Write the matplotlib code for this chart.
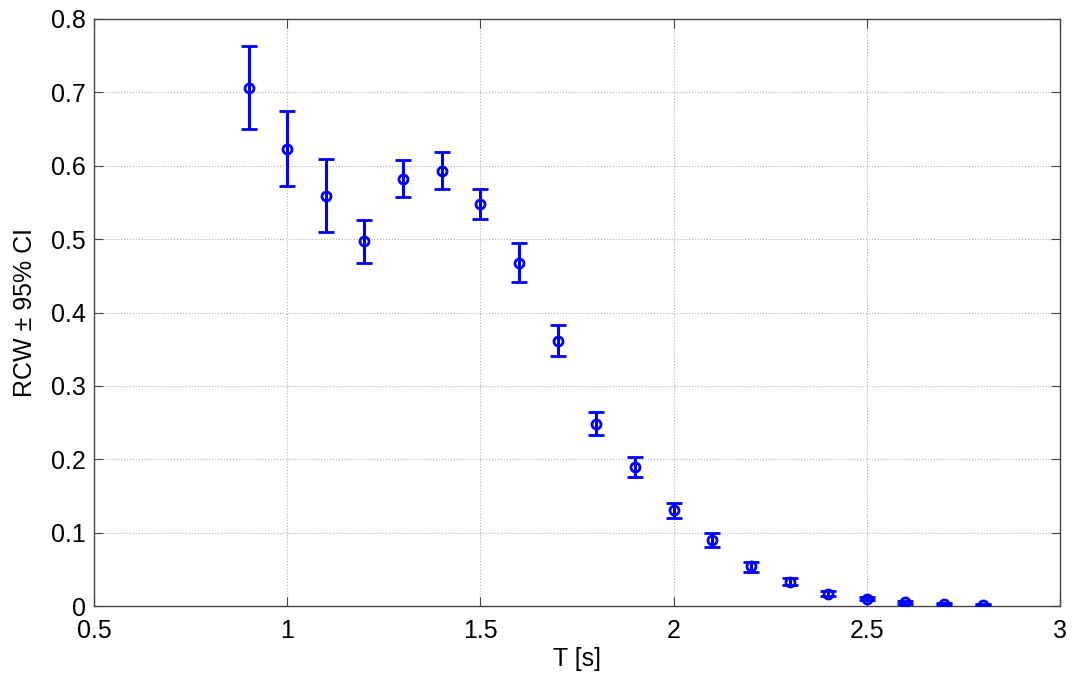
import numpy as np
import matplotlib as mpl
mpl.use('Agg')
import matplotlib.pyplot as plt

plt.rcParams['font.family'] = ['Liberation Sans', 'DejaVu Sans']

T = [0.9, 1.0, 1.1, 1.2, 1.3, 1.4, 1.5, 1.6, 1.7, 1.8,
     1.9, 2.0, 2.1, 2.2, 2.3, 2.4, 2.5, 2.6, 2.7, 2.8]
rcw = [0.706, 0.623, 0.559, 0.497, 0.582, 0.593, 0.548, 0.468, 0.361, 0.248,
       0.189, 0.131, 0.090, 0.054, 0.033, 0.017, 0.010, 0.005, 0.003, 0.002]
ci_low = [0.650, 0.573, 0.510, 0.468, 0.558, 0.569, 0.528, 0.442, 0.341, 0.233,
          0.176, 0.120, 0.080, 0.047, 0.028, 0.014, 0.008, 0.003, 0.002, 0.001]
ci_high = [0.763, 0.674, 0.609, 0.526, 0.608, 0.619, 0.568, 0.495, 0.383, 0.264,
           0.203, 0.141, 0.100, 0.060, 0.038, 0.020, 0.012, 0.007, 0.004, 0.003]

rcw = np.array(rcw)
yerr = [rcw - np.array(ci_low), np.array(ci_high) - rcw]

fig = plt.figure(figsize=(10.72, 6.81), dpi=100)
ax = fig.add_axes([0.0877, 0.1101, 0.9011, 0.862])

ax.errorbar(T, rcw, yerr=yerr, fmt='o', color='#0000ff', mfc='none',
            mec='#0000ff', ms=6.5, mew=2, elinewidth=2.2, capsize=5.5,
            capthick=2.2, zorder=3)

ax.set_xlim(0.5, 3)
ax.set_ylim(0, 0.8)
ax.set_xticks(np.arange(0.5, 3.01, 0.5))
ax.set_xticklabels(['0.5', '1', '1.5', '2', '2.5', '3'])
ax.set_yticks(np.arange(0, 0.81, 0.1))
ax.set_yticklabels(['0', '0.1', '0.2', '0.3', '0.4', '0.5', '0.6', '0.7', '0.8'])
ax.grid(True, linestyle=':', color='#b0b0b0', linewidth=0.8)
ax.tick_params(direction='in', top=True, right=True, length=6.5,
               labelsize=18, color='#444444')
ax.tick_params(axis='x', pad=9)
ax.tick_params(axis='y', pad=6)
for s in ax.spines.values():
    s.set_color('#444444')
    s.set_linewidth(1.0)

ax.set_xlabel('T [s]', fontsize=18, labelpad=3)
ax.set_ylabel('RCW \u00b1 95% CI', fontsize=18, labelpad=10)

fig.savefig('out.png', dpi=100)
